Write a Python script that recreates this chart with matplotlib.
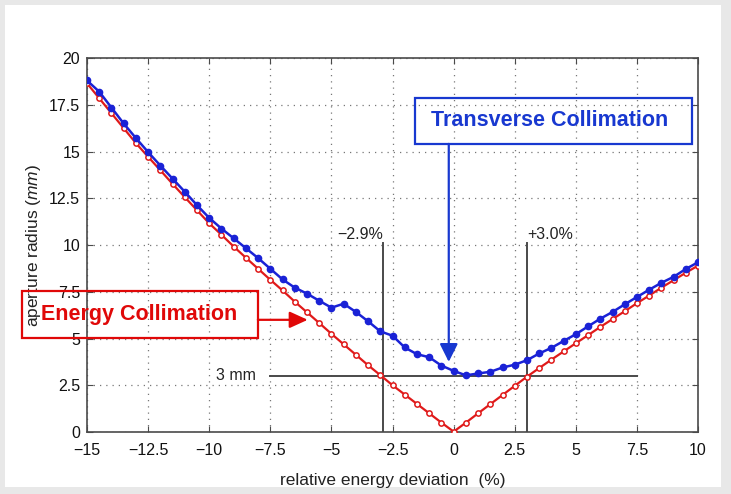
import numpy as np
import matplotlib
matplotlib.use("Agg")
import matplotlib.pyplot as plt
from matplotlib.patches import Rectangle

plt.rcParams['font.family'] = ['Liberation Sans', 'DejaVu Sans']
plt.rcParams['mathtext.fontset'] = 'custom'
plt.rcParams['mathtext.rm'] = 'Liberation Sans'
plt.rcParams['mathtext.it'] = 'Liberation Sans:italic'

# relative energy deviation (%), one sample every 0.5 %
dev = np.arange(-15, 10.5, 0.5)

# aperture radius (mm) with energy collimation
energy_ap = [18.65, 17.85, 17.05, 16.25, 15.45, 14.72, 14.00, 13.27, 12.56, 11.86,
             11.16, 10.55, 9.92, 9.32, 8.73, 8.14, 7.57, 6.97, 6.40, 5.83,
             5.25, 4.69, 4.13, 3.57, 3.04, 2.50, 2.00, 1.50, 1.00, 0.50,
             0.02, 0.50, 1.00, 1.49, 1.98, 2.47, 2.96, 3.42, 3.87, 4.31,
             4.75, 5.18, 5.62, 6.04, 6.46, 6.89, 7.30, 7.72, 8.12, 8.52, 8.90]

# aperture radius (mm) with transverse collimation
trans_ap = [18.80, 18.20, 17.35, 16.50, 15.72, 14.97, 14.25, 13.55, 12.85, 12.13,
            11.45, 10.88, 10.36, 9.83, 9.30, 8.73, 8.16, 7.72, 7.40, 7.02,
            6.65, 6.86, 6.42, 5.92, 5.38, 5.15, 4.52, 4.16, 4.00, 3.55,
            3.27, 3.03, 3.13, 3.22, 3.45, 3.60, 3.84, 4.20, 4.50, 4.87,
            5.23, 5.65, 6.06, 6.42, 6.83, 7.22, 7.61, 7.98, 8.30, 8.72, 9.08]

xticks = [-15, -12.5, -10, -7.5, -5, -2.5, 0, 2.5, 5, 7.5, 10]
xticklabels = ['\u221215', '\u221212.5', '\u221210', '\u22127.5', '\u22125', '\u22122.5',
               '0', '2.5', '5', '7.5', '10']
yticks = [0, 2.5, 5, 7.5, 10, 12.5, 15, 17.5, 20]
yticklabels = ['0', '2.5', '5', '7.5', '10', '12.5', '15', '17.5', '20']

# acceptance limits
dev_lo, dev_hi = -2.9, 3.0
limit_top = 10.1
gap_mm = 3.0

blue = '#1a22d6'
red = '#e01a1a'
box_blue = '#1838d0'
box_red = '#e00808'
ink = '#4a4a4a'

fig = plt.figure(figsize=(7.31, 4.94), dpi=100, facecolor='#e8e8e8')
fig.patches.append(Rectangle((5 / 731, 7 / 494), 716 / 731, 482 / 494,
                             transform=fig.transFigure, facecolor='white',
                             edgecolor='none', zorder=-10))
ax = fig.add_axes([0.119, 0.1255, 0.836, 0.757])

ax.plot(dev, energy_ap, '-o', color=red, lw=1.6, ms=3.8, mfc='white',
        mec=red, mew=1.1, zorder=3)
ax.plot(dev, trans_ap, '-o', color=blue, lw=1.8, ms=4.5, mfc=blue,
        mec=blue, zorder=4)

# acceptance markers
ax.plot([dev_lo, dev_lo], [0, limit_top], color=ink, lw=1.4, zorder=2)
ax.plot([dev_hi, dev_hi], [0, limit_top], color=ink, lw=1.4, zorder=2)
ax.plot([-7.5, 7.5], [gap_mm, gap_mm], color=ink, lw=1.4, zorder=2)
ax.text(dev_lo, limit_top + 0.05, '\u22122.9%', ha='right', va='bottom',
        fontsize=11.5, color='#222222')
ax.text(dev_hi, limit_top + 0.05, '+3.0%', ha='left', va='bottom',
        fontsize=11.5, color='#222222')
ax.text(-8.1, gap_mm, '3 mm', ha='right', va='center', fontsize=11.5,
        color='#222222')

# callout boxes
ax.add_patch(Rectangle((-1.6, 15.41), 11.34, 2.46, facecolor='none',
                       edgecolor=box_blue, lw=1.6, clip_on=False, zorder=6))
ax.text(3.93, 16.64, 'Transverse Collimation', ha='center', va='center',
        fontsize=15.5, fontweight='bold', color=box_blue, zorder=6)
ax.annotate('', xy=(-0.2, 3.75), xytext=(-0.2, 15.41),
            arrowprops=dict(arrowstyle='-|>,head_length=1.1,head_width=0.55',
                            color=box_blue, lw=1.6, shrinkA=0, shrinkB=0),
            annotation_clip=False, zorder=6)

ax.add_patch(Rectangle((-17.66, 5.03), 9.65, 2.51, facecolor='none',
                       edgecolor=box_red, lw=1.6, clip_on=False, zorder=6))
ax.text(-12.85, 6.3, 'Energy Collimation', ha='center', va='center',
        fontsize=15.5, fontweight='bold', color=box_red, zorder=6,
        clip_on=False)
ax.annotate('', xy=(-5.97, 6.0), xytext=(-8.01, 6.0),
            arrowprops=dict(arrowstyle='-|>,head_length=1.1,head_width=0.5',
                            color=box_red, lw=1.6, shrinkA=0, shrinkB=0),
            annotation_clip=False, zorder=6)

ax.set_xlim(-15, 10)
ax.set_ylim(0, 20)
ax.set_xticks(xticks)
ax.set_xticklabels(xticklabels)
ax.set_yticks(yticks)
ax.set_yticklabels(yticklabels)
ax.tick_params(direction='in', top=True, right=True, length=4,
               labelsize=11.5, color=ink, labelcolor='#111111')
ax.tick_params(axis='x', pad=8)
ax.tick_params(axis='y', pad=5)
ax.grid(True, linestyle=(0, (1, 4)), color='#777777', lw=0.9)
for sp in ax.spines.values():
    sp.set_color(ink)
    sp.set_linewidth(1.2)

ax.set_xlabel('relative energy deviation  (%)', fontsize=12.5, labelpad=11,
              color='#222222')
ax.set_ylabel(r'aperture radius ($\mathit{mm}$)', fontsize=12.5, labelpad=4,
              color='#222222')

fig.savefig('out.png', dpi=100, facecolor=fig.get_facecolor())
